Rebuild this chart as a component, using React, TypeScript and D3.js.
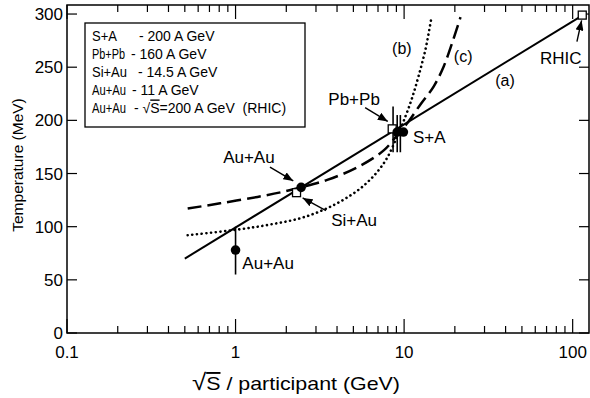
import React, { useEffect, useRef } from 'react'
import * as d3 from 'd3'

const W = 590
const H = 398
const FONT = 'Liberation Sans, Arial, Helvetica, sans-serif'

// (a) straight line, linear in log(sqrt s)
const lineAX = [0.5, 115]
const lineAT = [70, 299]
// (b) dotted curve
const curveBX = [0.52, 1.0, 1.6, 2.55, 4.0, 5.8, 7.6, 9.0, 10.2, 11.2, 12.2, 13.4, 14.5]
const curveBT = [92, 97, 102, 109, 122, 139, 160, 183, 204, 222, 242, 267, 296]
// (c) dashed curve
const curveCX = [0.52, 0.81, 1.35, 1.94, 2.45, 3.5, 5.3, 7.6, 9.5, 10.4, 12.5, 15.0, 17.2, 19.3, 21.6]
const curveCT = [117, 122, 128, 133, 137, 144, 156, 172, 190, 197, 215, 232, 251, 273, 297]

// measured points
const dotX = [1.0, 2.45, 9.1, 9.9]
const dotT = [78, 137, 189, 189]
const squareX = [2.3, 8.5, 114]
const squareT = [132, 192, 299]
const errX = [1.0, 8.6, 9.1, 9.5]
const errLo = [55, 170, 170, 170]
const errHi = [100, 213, 205, 205]

const yTicks = [0, 50, 100, 150, 200, 250, 300]
const xMajor = [0.1, 1, 10, 100]
const xLabels = ['0.1', '1', '10', '100']

const legendNames = ['S+A', 'Pb+Pb', 'Si+Au', 'Au+Au', 'Au+Au']
const legendDesc = ['- 200 A GeV', '- 160 A GeV', '- 14.5 A GeV', '- 11 A GeV', '- √']

// annotations in data coordinates
const labels = [
  { text: 'Au+Au', x: 1.2, t: 166, size: 17 },
  { text: 'Si+Au', x: 5.05, t: 106, size: 17 },
  { text: 'Au+Au', x: 1.56, t: 66, size: 17 },
  { text: 'Pb+Pb', x: 5.05, t: 220, size: 17 },
  { text: 'S+A', x: 14.1, t: 184, size: 17 },
  { text: 'RHIC', x: 85, t: 259, size: 17 },
  { text: '(a)', x: 39.7, t: 238, size: 16 },
  { text: '(b)', x: 9.7, t: 268, size: 16 },
  { text: '(c)', x: 22.4, t: 260, size: 16 }
]
const arrows = [
  { x1: 1.6, t1: 156, x2: 2.2, t2: 143 },
  { x1: 3.44, t1: 115, x2: 2.5, t2: 127 },
  { x1: 5.87, t1: 212, x2: 8.0, t2: 199 },
  { x1: 106, t1: 274, x2: 113, t2: 294 }
]

function App() {
  const ref = useRef<SVGSVGElement>(null)

  useEffect(() => {
    drawChart(ref.current)
  }, [])

  return (
    <svg
      ref={ref}
      width={W}
      height={H}
      style={{ position: 'absolute', left: 0, top: 0, background: '#fff' }}
    />
  )
}

function drawChart(node: SVGSVGElement | null) {
  if (!node) return
  const svg = d3.select(node)
  svg.selectAll('*').remove()

  const left = 67, right = 589, top = 5, bottom = 333

  const x = d3.scaleLog().domain([0.1, 125]).range([left, right])
  const y = d3.scaleLinear().domain([0, 308.5]).range([bottom, top])

  svg.append('defs')
    .append('marker')
    .attr('id', 'head')
    .attr('markerUnits', 'userSpaceOnUse')
    .attr('markerWidth', 10)
    .attr('markerHeight', 8)
    .attr('refX', 10)
    .attr('refY', 4)
    .attr('orient', 'auto')
    .append('path')
    .attr('d', 'M0,0 L10,4 L0,8 Z')
    .attr('fill', '#000')

  // frame
  svg.append('rect')
    .attr('x', left).attr('y', top)
    .attr('width', right - left).attr('height', bottom - top)
    .attr('fill', 'none').attr('stroke', '#000').attr('stroke-width', 1.5)

  // x ticks (bottom and top, inward)
  const minors: number[] = []
  ;[0.1, 1, 10, 100].forEach(d => {
    for (let k = 2; k <= 9; k++) if (d * k <= 125) minors.push(d * k)
  })
  const tickG = svg.append('g').attr('stroke', '#000').attr('stroke-width', 1.2)
  xMajor.forEach(d => {
    tickG.append('line').attr('x1', x(d)).attr('x2', x(d)).attr('y1', bottom).attr('y2', bottom - 14)
    tickG.append('line').attr('x1', x(d)).attr('x2', x(d)).attr('y1', top).attr('y2', top + 14)
  })
  minors.forEach(d => {
    tickG.append('line').attr('x1', x(d)).attr('x2', x(d)).attr('y1', bottom).attr('y2', bottom - 7)
    tickG.append('line').attr('x1', x(d)).attr('x2', x(d)).attr('y1', top).attr('y2', top + 7)
  })
  yTicks.forEach(d => {
    tickG.append('line').attr('x1', left).attr('x2', left + 10).attr('y1', y(d)).attr('y2', y(d))
    tickG.append('line').attr('x1', right).attr('x2', right - 10).attr('y1', y(d)).attr('y2', y(d))
  })

  // tick labels
  svg.append('g')
    .selectAll('text')
    .data(yTicks)
    .enter()
    .append('text')
    .attr('x', left - 4)
    .attr('y', d => y(d))
    .attr('dy', '0.36em')
    .attr('text-anchor', 'end')
    .attr('font-family', FONT)
    .attr('font-size', 17)
    .text(d => d)

  svg.append('g')
    .selectAll('text')
    .data(xMajor)
    .enter()
    .append('text')
    .attr('x', d => x(d))
    .attr('y', 358)
    .attr('text-anchor', 'middle')
    .attr('font-family', FONT)
    .attr('font-size', 17)
    .text((d, i) => xLabels[i])

  // axis titles
  svg.append('text')
    .attr('transform', 'translate(17,165) rotate(-90)')
    .attr('text-anchor', 'middle')
    .attr('dy', '0.36em')
    .attr('font-family', FONT)
    .attr('font-size', 15.5)
    .text('Temperature (MeV)')

  const xt = svg.append('text')
    .attr('x', 296)
    .attr('y', 390)
    .attr('text-anchor', 'middle')
    .attr('font-family', FONT)
    .attr('font-size', 19)
    .attr('textLength', 208)
    .attr('lengthAdjust', 'spacingAndGlyphs')
  xt.append('tspan').attr('font-size', 23).text('√')
  xt.append('tspan').style('text-decoration', 'overline').text('S')
  xt.append('tspan').text(' / participant (GeV)')

  // curves
  const line = d3.line<[number, number]>()
    .x(d => x(d[0]))
    .y(d => y(d[1]))

  svg.append('path')
    .attr('d', line(lineAX.map((v, i) => [v, lineAT[i]] as [number, number])))
    .attr('fill', 'none').attr('stroke', '#000').attr('stroke-width', 2)

  svg.append('path')
    .attr('d', line.curve(d3.curveCatmullRom)(curveBX.map((v, i) => [v, curveBT[i]] as [number, number])))
    .attr('fill', 'none').attr('stroke', '#000').attr('stroke-width', 2.6)
    .attr('stroke-linecap', 'round').attr('stroke-dasharray', '0.1 4.6')

  svg.append('path')
    .attr('d', line.curve(d3.curveCatmullRom)(curveCX.map((v, i) => [v, curveCT[i]] as [number, number])))
    .attr('fill', 'none').attr('stroke', '#000').attr('stroke-width', 2.5)
    .attr('stroke-dasharray', '14 6')

  // error bars
  svg.append('g')
    .selectAll('line')
    .data(errX)
    .enter()
    .append('line')
    .attr('x1', d => x(d)).attr('x2', d => x(d))
    .attr('y1', (d, i) => y(errLo[i])).attr('y2', (d, i) => y(errHi[i]))
    .attr('stroke', '#000').attr('stroke-width', 1.6)

  // squares
  svg.append('g')
    .selectAll('rect')
    .data(squareX)
    .enter()
    .append('rect')
    .attr('x', d => x(d) - 4)
    .attr('y', (d, i) => y(squareT[i]) - 4)
    .attr('width', 8).attr('height', 8)
    .attr('fill', '#fff').attr('stroke', '#000').attr('stroke-width', 1.3)

  // dots
  svg.append('g')
    .selectAll('circle')
    .data(dotX)
    .enter()
    .append('circle')
    .attr('cx', d => x(d))
    .attr('cy', (d, i) => y(dotT[i]))
    .attr('r', 4.8)
    .attr('fill', '#000')

  // annotations
  svg.append('g')
    .selectAll('text')
    .data(labels)
    .enter()
    .append('text')
    .attr('x', d => x(d.x))
    .attr('y', d => y(d.t))
    .attr('dy', '0.36em')
    .attr('text-anchor', 'middle')
    .attr('font-family', FONT)
    .attr('font-size', d => d.size)
    .text(d => d.text)

  svg.append('g')
    .selectAll('line')
    .data(arrows)
    .enter()
    .append('line')
    .attr('x1', d => x(d.x1)).attr('y1', d => y(d.t1))
    .attr('x2', d => x(d.x2)).attr('y2', d => y(d.t2))
    .attr('stroke', '#000').attr('stroke-width', 1.4)
    .attr('marker-end', 'url(#head)')

  // legend box
  const lg = svg.append('g')
  lg.append('rect')
    .attr('x', 85).attr('y', 23).attr('width', 220).attr('height', 104)
    .attr('fill', '#fff').attr('stroke', '#000').attr('stroke-width', 1.3)
  const nameW = [25, 33, 35, 34, 34]
  const descX = [139, 131, 138, 132, 134]
  legendNames.forEach((name, i) => {
    const yy = 36 + i * 18.1
    lg.append('text')
      .attr('x', 92).attr('y', yy).attr('dy', '0.36em')
      .attr('font-family', FONT).attr('font-size', 14)
      .attr('textLength', nameW[i])
      .attr('lengthAdjust', 'spacingAndGlyphs')
      .text(name)
    const t = lg.append('text')
      .attr('x', descX[i]).attr('y', yy).attr('dy', '0.36em')
      .attr('font-family', FONT).attr('font-size', 14)
      .attr('xml:space', 'preserve')
      .style('white-space', 'pre')
      .text(legendDesc[i])
    if (i === 4) {
      t.append('tspan').style('text-decoration', 'overline').text('S')
      t.append('tspan').text('=200 A GeV  (RHIC)')
    }
  })
}

export default App
